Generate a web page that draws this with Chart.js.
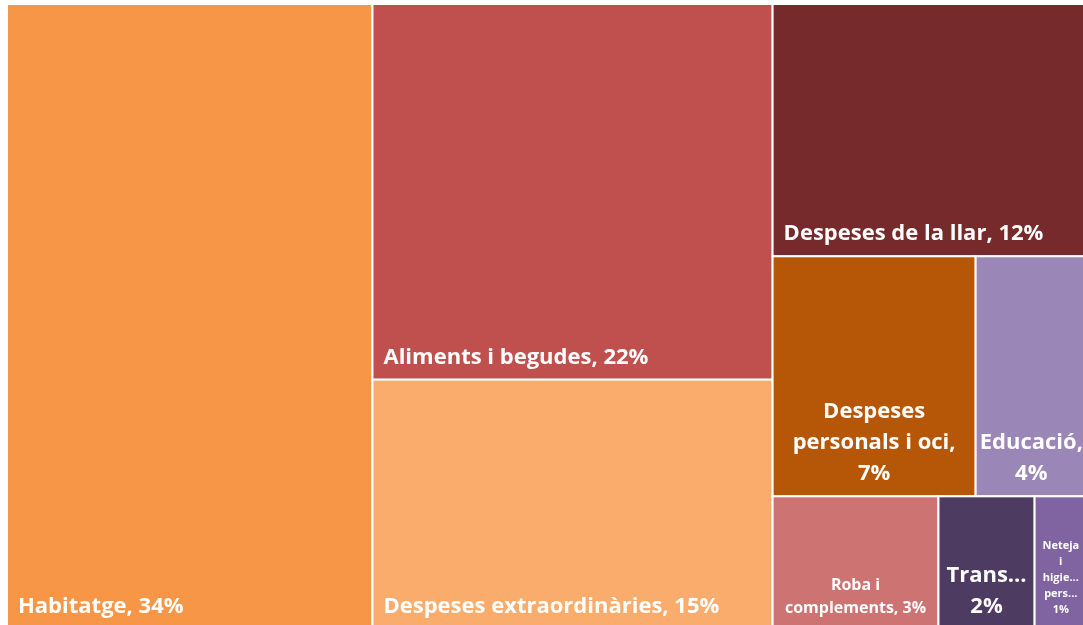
<!DOCTYPE html>
<html>
<head>
<meta charset="utf-8">
<script src="https://cdn.jsdelivr.net/npm/chart.js@4.4.1/dist/chart.umd.min.js"></script>
<style>
  html, body { margin: 0; padding: 0; background: #fff; overflow: hidden; }
  #wrap { width: 1087px; height: 629px; }
</style>
</head>
<body>
<div id="wrap"><canvas id="myChart_Treemap" width="1087" height="629"></canvas></div>
<script>
// Categories (already sorted from biggest to smallest, as the treemap lays them out)
const categories = [
  "Habitatge",
  "Aliments i begudes",
  "Despeses extraordinàries",
  "Despeses de la llar",
  "Despeses personals i oci",
  "Educació",
  "Roba i complements",
  "Transport",
  "Neteja i higiene personal",
];

// Share of the total spend, in %
const shares = [33.84, 22.27, 14.78, 11.75, 7.22, 3.96, 3.26, 1.89, 1.03];

// Text shown inside each cell, line by line (as wrapped / shortened in the original)
const cellLabels = [
  ["Habitatge, 34%"],
  ["Aliments i begudes, 22%"],
  ["Despeses extraordinàries, 15%"],
  ["Despeses de la llar, 12%"],
  ["Despeses", "personals i oci,", "7%"],
  ["Educació,", "4%"],
  ["Roba i", "complements, 3%"],
  ["Trans...", "2%"],
  ["Neteja", "i", "higie...", "pers...", "1%"],
];

const cellColors = [
  "#F79646", "#C0504D", "#F9AC6B", "#772A2B", "#B65708",
  "#9A86B7", "#CD7371", "#4D3B61", "#8064A2",
];

const FONT_FAMILY = "'Open Sans', Lato, sans-serif";
const FONT_SIZES = [22, 16, 11]; // Excel-like steps: big, medium, small

function sum(arr) {
  return arr.reduce((a, b) => a + b, 0);
}

// worst aspect ratio of a row laid along a side of `side` px, s = px² per unit
function worstRatio(row, side, s) {
  const thick = (sum(row) * s) / side;
  let w = 0;
  row.forEach((v) => {
    const len = (v * s) / thick;
    w = Math.max(w, len / thick, thick / len);
  });
  return w;
}

// squarified layout, in data units (0..100 on both axes), kx/ky = px per unit
function layoutTreemap(vals, kx, ky) {
  const tolerance = 1.15;
  let rect = { x: 0, y: 0, w: 100, h: 100 };
  const cells = [];
  let i = 0;
  while (i < vals.length) {
    const remaining = sum(vals.slice(i));
    const wide = rect.w * kx >= rect.h * ky;
    const side = wide ? rect.h * ky : rect.w * kx;
    const s = (rect.w * kx * rect.h * ky) / remaining;
    let row = [vals[i]];
    let best = worstRatio(row, side, s);
    let j = i + 1;
    while (j < vals.length) {
      const cand = row.concat(vals[j]);
      const wr = worstRatio(cand, side, s);
      if (wr > best * tolerance) break;
      row = cand;
      best = wr;
      j++;
    }
    const rowSum = sum(row);
    if (wide) {
      const thick = (rowSum / remaining) * rect.w;
      let yy = rect.y;
      row.forEach((v) => {
        const hh = (v / rowSum) * rect.h;
        cells.push({ x: rect.x, y: yy, w: thick, h: hh });
        yy += hh;
      });
      rect = { x: rect.x + thick, y: rect.y, w: rect.w - thick, h: rect.h };
    } else {
      const thick = (rowSum / remaining) * rect.h;
      let xx = rect.x;
      row.forEach((v) => {
        const ww = (v / rowSum) * rect.w;
        cells.push({ x: xx, y: rect.y, w: ww, h: thick });
        xx += ww;
      });
      rect = { x: rect.x, y: rect.y + thick, w: rect.w, h: rect.h - thick };
    }
    i = j;
  }
  return cells;
}

const treemapPlugin = {
  id: "treemapCells",
  beforeDatasetsDraw(chart) {
    const ctx = chart.ctx;
    const xs = chart.scales.x;
    const ys = chart.scales.y;
    const kx = Math.abs(xs.getPixelForValue(100) - xs.getPixelForValue(0)) / 100;
    const ky = Math.abs(ys.getPixelForValue(100) - ys.getPixelForValue(0)) / 100;
    const cells = layoutTreemap(shares, kx, ky);

    ctx.save();
    cells.forEach((c, idx) => {
      const x0 = xs.getPixelForValue(c.x);
      const x1 = xs.getPixelForValue(c.x + c.w);
      const y0 = ys.getPixelForValue(c.y);
      const y1 = ys.getPixelForValue(c.y + c.h);
      ctx.fillStyle = cellColors[idx];
      ctx.fillRect(x0, y0, x1 - x0, y1 - y0);
      ctx.strokeStyle = "#ffffff";
      ctx.lineWidth = 2;
      ctx.strokeRect(x0, y0, x1 - x0, y1 - y0);

      // label
      const lines = cellLabels[idx];
      const innerW = x1 - x0 - 4;
      let size = FONT_SIZES[FONT_SIZES.length - 1];
      for (const fs of FONT_SIZES) {
        ctx.font = "bold " + fs + "px " + FONT_FAMILY;
        const maxW = Math.max(...lines.map((l) => ctx.measureText(l).width));
        if (maxW <= innerW) {
          size = fs;
          break;
        }
      }
      ctx.font = "bold " + size + "px " + FONT_FAMILY;
      const lh = Math.round(size * 1.42);
      ctx.fillStyle = "#ffffff";
      ctx.textBaseline = "alphabetic";
      const lastBase = y1 - 16;
      lines.forEach((l, k) => {
        const yy = lastBase - (lines.length - 1 - k) * lh;
        if (lines.length === 1) {
          ctx.textAlign = "left";
          ctx.fillText(l, x0 + 11, yy);
        } else {
          ctx.textAlign = "center";
          ctx.fillText(l, (x0 + x1) / 2, yy);
        }
      });
    });
    ctx.restore();
  },
};

window.addEventListener("load", function () {
  const ctx = document.getElementById("myChart_Treemap").getContext("2d");
  new Chart(ctx, {
    type: "scatter",
    data: {
      labels: categories,
      datasets: [{ label: "Despeses", data: [], pointRadius: 0 }],
    },
    options: {
      responsive: false,
      animation: false,
      layout: { padding: { left: 7, top: 4, right: 0, bottom: 0 } },
      plugins: { legend: { display: false }, tooltip: { enabled: false } },
      scales: {
        x: { type: "linear", min: 0, max: 100, display: false },
        y: { type: "linear", min: 0, max: 100, reverse: true, display: false },
      },
    },
    plugins: [treemapPlugin],
  });
});
</script>
</body>
</html>
